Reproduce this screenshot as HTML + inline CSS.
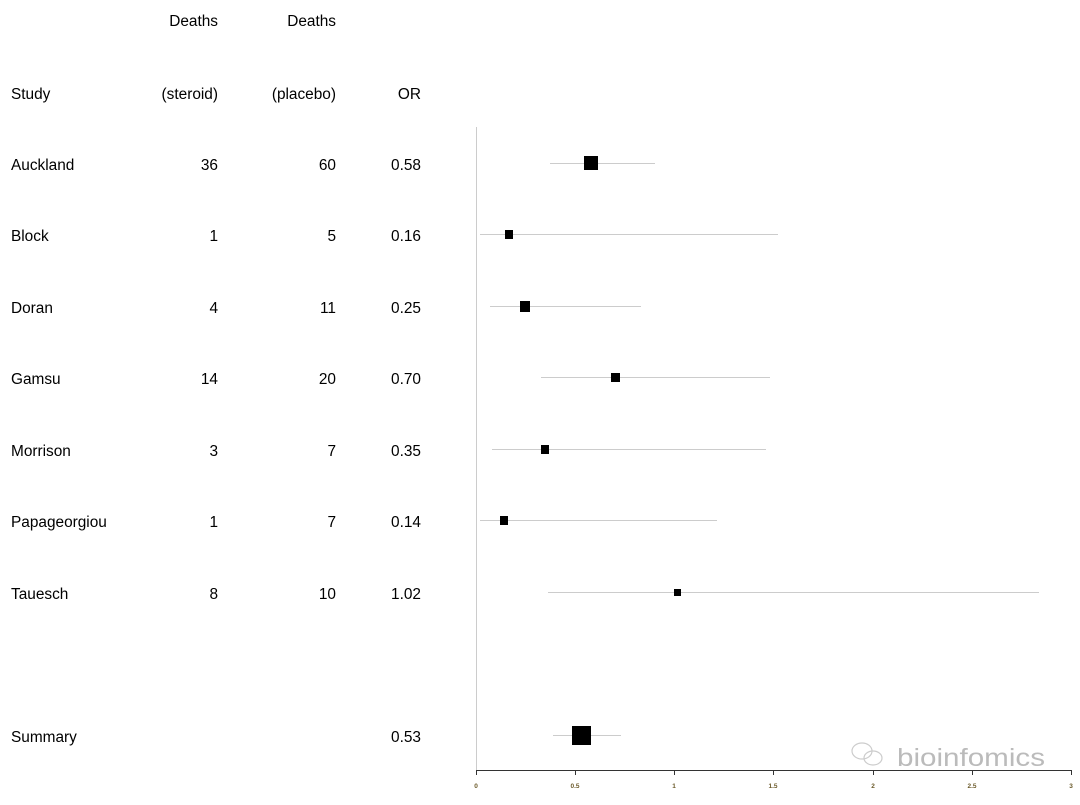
<!DOCTYPE html>
<html><head><style>
body{margin:0;background:#fff;width:1080px;height:800px;overflow:hidden}
</style></head><body>
<svg width="1080" height="800" xmlns="http://www.w3.org/2000/svg" font-family="Liberation Sans, Arial, sans-serif" font-size="15.4" fill="#000">
<g>
<text x="218" y="26" text-anchor="end">Deaths</text>
<text x="336" y="26" text-anchor="end">Deaths</text>
<text x="11" y="99">Study</text>
<text x="218" y="99" text-anchor="end">(steroid)</text>
<text x="336" y="99" text-anchor="end">(placebo)</text>
<text x="421" y="99" text-anchor="end">OR</text>

<text x="11" y="170">Auckland</text><text x="218" y="170" text-anchor="end">36</text><text x="336" y="170" text-anchor="end">60</text><text x="421" y="170" text-anchor="end">0.58</text>
<text x="11" y="241">Block</text><text x="218" y="241" text-anchor="end">1</text><text x="336" y="241" text-anchor="end">5</text><text x="421" y="241" text-anchor="end">0.16</text>
<text x="11" y="313">Doran</text><text x="218" y="313" text-anchor="end">4</text><text x="336" y="313" text-anchor="end">11</text><text x="421" y="313" text-anchor="end">0.25</text>
<text x="11" y="384">Gamsu</text><text x="218" y="384" text-anchor="end">14</text><text x="336" y="384" text-anchor="end">20</text><text x="421" y="384" text-anchor="end">0.70</text>
<text x="11" y="456">Morrison</text><text x="218" y="456" text-anchor="end">3</text><text x="336" y="456" text-anchor="end">7</text><text x="421" y="456" text-anchor="end">0.35</text>
<text x="11" y="527">Papageorgiou</text><text x="218" y="527" text-anchor="end">1</text><text x="336" y="527" text-anchor="end">7</text><text x="421" y="527" text-anchor="end">0.14</text>
<text x="11" y="599">Tauesch</text><text x="218" y="599" text-anchor="end">8</text><text x="336" y="599" text-anchor="end">10</text><text x="421" y="599" text-anchor="end">1.02</text>
<text x="11" y="742">Summary</text><text x="421" y="742" text-anchor="end">0.53</text>
</g>
<line x1="476.5" y1="127" x2="476.5" y2="770" stroke="#ccc" stroke-width="1"/>
<g stroke="#ccc" stroke-width="1">
<line x1="550" y1="163.5" x2="655" y2="163.5"/>
<line x1="480" y1="234.5" x2="778" y2="234.5"/>
<line x1="490" y1="306.5" x2="641" y2="306.5"/>
<line x1="541" y1="377.5" x2="770" y2="377.5"/>
<line x1="492" y1="449.5" x2="766" y2="449.5"/>
<line x1="480" y1="520.5" x2="717" y2="520.5"/>
<line x1="548" y1="592.5" x2="1039" y2="592.5"/>
<line x1="553" y1="735.5" x2="621" y2="735.5"/>
</g>
<rect x="584" y="156" width="14" height="14"/>
<rect x="505" y="230" width="8" height="9"/>
<rect x="520" y="301" width="10" height="11"/>
<rect x="611" y="373" width="9" height="9"/>
<rect x="541" y="445" width="8" height="9"/>
<rect x="500" y="516" width="8" height="9"/>
<rect x="674" y="589" width="7" height="7"/>
<rect x="572" y="726" width="19" height="19"/>
<g stroke="#333" stroke-width="1">
<line x1="476" y1="770.5" x2="1072" y2="770.5"/>
<line x1="476.5" y1="770" x2="476.5" y2="775"/>
<line x1="575.5" y1="770" x2="575.5" y2="775"/>
<line x1="674.5" y1="770" x2="674.5" y2="775"/>
<line x1="773.5" y1="770" x2="773.5" y2="775"/>
<line x1="873.5" y1="770" x2="873.5" y2="775"/>
<line x1="972.5" y1="770" x2="972.5" y2="775"/>
<line x1="1071.5" y1="770" x2="1071.5" y2="775"/>
</g>
<g font-size="6.5" font-weight="bold" fill="#6b5a2a" text-anchor="middle">
<text x="476" y="788">0</text><text x="575" y="788">0.5</text><text x="674" y="788">1</text><text x="773" y="788">1.5</text><text x="873" y="788">2</text><text x="972" y="788">2.5</text><text x="1071" y="788">3</text>
</g>
<g fill="none" stroke="#ccc" stroke-width="1.2">
<ellipse cx="862" cy="751" rx="10" ry="8"/>
<ellipse cx="873" cy="758" rx="9" ry="7"/>
</g>
<text x="897" y="766" font-size="25" fill="#bbb" textLength="148" lengthAdjust="spacingAndGlyphs">bioinfomics</text>
</svg>
</body></html>
